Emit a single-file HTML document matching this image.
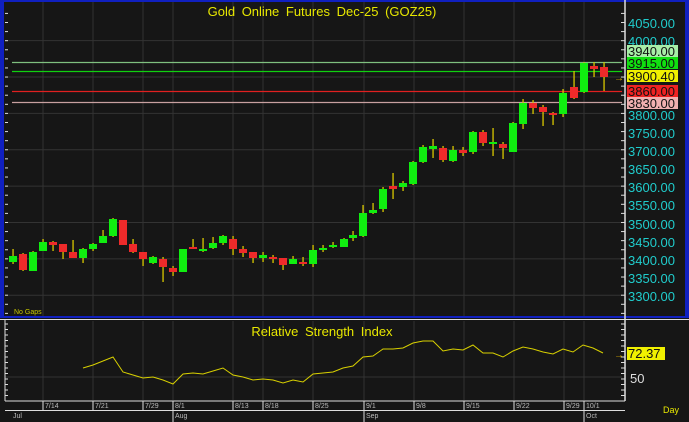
<!DOCTYPE html>
<html><head><meta charset="utf-8"><style>
html,body{margin:0;padding:0;background:#161616;}
svg{display:block;font-family:"Liberation Sans",sans-serif;}
</style></head><body>
<svg id="s" width="689" height="422" viewBox="0 0 689 422" xmlns="http://www.w3.org/2000/svg">
<rect width="689" height="422" fill="#161616"/>
<g id="grid" stroke="#333" stroke-width="1"></g>
<line x1="12" x2="622" y1="62.5" y2="62.5" stroke="#7fc07f" stroke-width="1.3"/>
<line x1="12" x2="622" y1="71.5" y2="71.5" stroke="#10d010" stroke-width="1.3"/>
<line x1="12" x2="622" y1="91.5" y2="91.5" stroke="#e02020" stroke-width="1.3"/>
<line x1="12" x2="622" y1="102.5" y2="102.5" stroke="#c8a0a0" stroke-width="1.3"/>
<g id="candles"></g>
<text x="322" y="16" fill="#e8e800" font-size="13" text-anchor="middle" word-spacing="3">Gold  Online  Futures  Dec-25  (GOZ25)</text>
<text x="14" y="314" fill="#c8c800" font-size="7">No Gaps</text>
<rect x="0" y="0" width="689" height="2" fill="#1020c0"/>
<rect x="0" y="0" width="4" height="318" fill="#1020c0"/>
<rect x="685" y="0" width="4" height="318" fill="#1020c0"/>
<rect x="0" y="316" width="689" height="2" fill="#1020c0"/>
<line x1="0" x2="689" y1="319.5" y2="319.5" stroke="#ddd"/>
<line x1="625" x2="625" y1="0" y2="401" stroke="#ddd" stroke-width="1.5"/>
<line x1="5" x2="5" y1="320" y2="401" stroke="#ddd"/>
<g id="ticks" stroke="#ddd"></g>
<g fill="#20cccc" font-size="13">
<text x="628" y="28">4050.00</text>
<text x="628" y="46">4000.00</text>
<text x="628" y="120">3800.00</text>
<text x="628" y="138">3750.00</text>
<text x="628" y="156">3700.00</text>
<text x="628" y="174">3650.00</text>
<text x="628" y="192">3600.00</text>
<text x="628" y="210">3550.00</text>
<text x="628" y="229">3500.00</text>
<text x="628" y="247">3450.00</text>
<text x="628" y="265">3400.00</text>
<text x="628" y="283">3350.00</text>
<text x="628" y="301">3300.00</text>
</g>
<rect x="627" y="45" width="51" height="12" fill="#a8eea8"/>
<rect x="627" y="57" width="51" height="12" fill="#10e010"/>
<rect x="627" y="70" width="51" height="12" fill="#f0f000"/>
<rect x="627" y="85" width="51" height="12" fill="#ee2222"/>
<rect x="627" y="97" width="51" height="12" fill="#f0b0b0"/>
<g fill="#111" font-size="13">
<text x="628" y="56">3940.00</text>
<text x="628" y="68">3915.00</text>
<text x="628" y="81">3900.40</text>
<text x="628" y="96">3860.00</text>
<text x="628" y="108">3830.00</text>
</g>
<text x="614" y="81" fill="#e0b000" font-size="10">→</text>
<text x="322" y="336" fill="#e8e800" font-size="13" text-anchor="middle" word-spacing="3">Relative  Strength  Index</text>
<polyline fill="none" stroke="#d8d000" stroke-width="1" points="83,368 93,365 103,361 113,357 123,372 133,375 143,378 153,377 163,380 173,384 183,374 193,373 203,374 213,371 223,368 233,375 243,377 253,380 263,379 273,380 283,383 293,380 303,382 313,374 323,373 333,372 343,368 353,366 363,357 373,356 383,349 393,349 403,348 413,343 423,341 433,341 443,351 453,349 463,350 473,345 483,353 493,353 503,357 513,351 523,347 533,349 543,352 553,354 563,349 573,352 583,345 593,348 603,353"/>
<rect x="627" y="347" width="38" height="13" fill="#f0f000"/>
<text x="628" y="358" fill="#111" font-size="13">72.37</text>
<text x="614" y="358" fill="#e0b000" font-size="10">→</text>
<text x="630" y="383" fill="#ddd" font-size="13">50</text>
<line x1="5" x2="625" y1="401" y2="401" stroke="#ddd"/>
<line x1="5" x2="625" y1="410.5" y2="410.5" stroke="#ddd"/>
<g id="dates" fill="#bbb" font-size="7"></g>
<text x="663" y="413" fill="#e8e800" font-size="9">Day</text>
</svg>
<script>
var NS="http://www.w3.org/2000/svg";
function el(p,t,a){var e=document.createElementNS(NS,t);for(var k in a)e.setAttribute(k,a[k]);p.appendChild(e);return e;}
var grid=document.getElementById('grid');
var vx=[43,93,143,173,233,263,313,364,414,464,514,564,584];
vx.forEach(function(x){el(grid,'line',{x1:x,x2:x,y1:2,y2:316});el(grid,'line',{x1:x,x2:x,y1:321,y2:400});});
for(var p=4000;p>=3300;p-=100){var y=22.5+(4050-p)*0.3636;el(grid,'line',{x1:5,x2:622,y1:y,y2:y});}
[377].forEach(function(y){el(grid,'line',{x1:5,x2:622,y1:y,y2:y});});
var tk=document.getElementById('ticks');
for(var p=4075;p>=3250;p-=25){var y=22.5+(4050-p)*0.3636;if(y<3||y>315)continue;el(tk,'line',{x1:621,x2:625,y1:y,y2:y});el(tk,'line',{x1:5,x2:8,y1:y,y2:y});}
for(var y=324;y<400;y+=5.5){el(tk,'line',{x1:621,x2:625,y1:y,y2:y});el(tk,'line',{x1:5,x2:8,y1:y,y2:y});}
var C=[[13,'g',256,262,249,264],[23,'r',254,270,253,271],[33,'g',252,271,251,271],[43,'g',242,251,239,251],[53,'r',242,245,241,251],[63,'r',244,252,244,259],[73,'r',252,258,240,258],[83,'g',249,258,248,263],[93,'g',244,249,243,251],[103,'g',236,243,230,243],[113,'g',219,236,218,237],[123,'r',220,245,220,245],[133,'r',244,252,239,253],[143,'r',252,259,252,266],[153,'g',257,263,256,264],[163,'r',259,267,257,282],[173,'r',268,272,266,276],[183,'g',249,272,249,272],[193,'r',247,249,239,249],[203,'g',249,251,238,252],[213,'g',243,248,237,249],[223,'g',236,243,235,245],[233,'r',239,249,236,255],[243,'r',249,253,246,257],[253,'r',252,258,252,263],[263,'g',255,258,252,262],[273,'r',257,259,255,263],[283,'r',258,265,258,270],[293,'g',259,264,256,264],[303,'r',262,263,257,266],[313,'g',250,264,245,267],[323,'g',248,250,245,252],[333,'g',245,247,242,248],[344,'g',239,247,238,247],[353,'g',235,238,231,241],[363,'g',213,236,205,237],[373,'g',210,213,203,214],[383,'g',189,209,187,212],[393,'r',186,189,173,199],[403,'g',183,187,181,191],[413,'g',162,184,161,185],[423,'g',147,162,145,163],[433,'g',146,149,139,158],[443,'r',148,160,146,162],[453,'g',150,161,146,162],[463,'r',150,153,147,156],[473,'g',132,152,131,154],[483,'r',132,143,130,146],[493,'g',142,143,128,156],[503,'r',144,148,142,159],[513,'g',123,152,122,152],[523,'g',103,124,99,129],[533,'r',103,108,100,114],[543,'r',107,112,105,126],[553,'r',113,115,112,125],[563,'g',93,114,89,117],[574,'r',87,98,71,99],[584,'g',63,92,62,93],[594,'r',66,69,62,77],[604,'r',67,77,62,91]];
var cg=document.getElementById('candles');
C.forEach(function(c){
 el(cg,'rect',{x:c[0]-0.6,y:c[4],width:1.3,height:c[5]-c[4],fill:'#d8c800'});
 var h=Math.max(c[3]-c[2],2);
 el(cg,'rect',{x:c[0]-4,y:c[2],width:8,height:h,fill:c[1]=='g'?'#10ee10':'#ee2a2a'});
});
var dg=document.getElementById('dates');
var D=[[43,'7/14'],[93,'7/21'],[143,'7/29'],[173,'8/1'],[233,'8/13'],[263,'8/18'],[313,'8/25'],[364,'9/1'],[414,'9/8'],[464,'9/15'],[514,'9/22'],[564,'9/29'],[584,'10/1']];
D.forEach(function(d){el(tk,'line',{x1:d[0],x2:d[0],y1:401,y2:410});var t=el(dg,'text',{x:d[0]+2,y:408});t.textContent=d[1];});
[[13,'Jul'],[175,'Aug'],[366,'Sep'],[586,'Oct']].forEach(function(m){var t=el(dg,'text',{x:m[0],y:418});t.textContent=m[1];});
[173,364,584].forEach(function(x){el(tk,'line',{x1:x,x2:x,y1:410,y2:422});});
</script>
</body></html>
